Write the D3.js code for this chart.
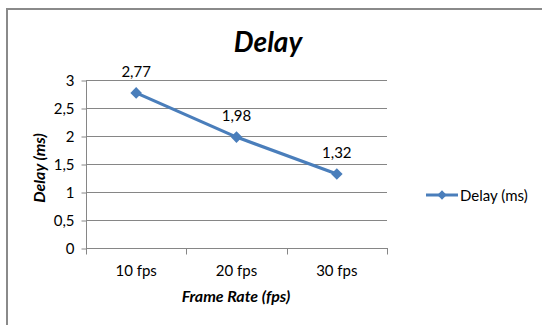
<!DOCTYPE html>
<html>
<head>
<meta charset="utf-8">
<script src="https://cdn.jsdelivr.net/npm/d3@7/dist/d3.min.js"></script>
<style>
  html, body { margin: 0; padding: 0; background: #fff; }
  svg { display: block; font-family: Lato, "Open Sans", sans-serif; }
</style>
</head>
<body>
<svg id="chart" width="542" height="325"></svg>
<script>
// Delay measured at each frame rate
const categories = ["10 fps", "20 fps", "30 fps"];
const delayValues = [2.77, 1.98, 1.32];
const yTicks = [0, 0.5, 1, 1.5, 2, 2.5, 3];
const seriesName = "Delay (ms)";
const chartTitle = "Delay";
const xTitle = "Frame Rate (fps)";
const yTitle = "Delay (ms)";

const svg = d3.select("#chart");
const blue = "#4A7EBB";
const grid = "#868686";
const fmt = v => String(v).replace(".", ",");
const fs = 15;

// Outer chart frame
svg.append("rect")
  .attr("x", 7).attr("y", 9).attr("width", 560).attr("height", 340)
  .attr("fill", "#fff").attr("stroke", "#8a8a8a").attr("stroke-width", 2);

const plot = { left: 86, right: 387, top: 80, bottom: 248 };

const x = d3.scaleBand().domain(categories).range([plot.left, plot.right]);
const y = d3.scaleLinear().domain([0, 3]).range([plot.bottom, plot.top]);

// Horizontal gridlines
svg.append("g").selectAll("line").data(yTicks.filter(t => t > 0)).join("line")
  .attr("x1", plot.left).attr("x2", plot.right)
  .attr("y1", d => y(d) + 0.5).attr("y2", d => y(d) + 0.5)
  .attr("stroke", grid).attr("stroke-width", 1);

// Y axis
const yAxis = svg.append("g")
  .attr("transform", `translate(${plot.left + 0.5},0.5)`)
  .call(d3.axisLeft(y).tickValues(yTicks).tickFormat(fmt).tickSize(5).tickPadding(7));
yAxis.select(".domain").attr("stroke", grid).attr("d", `M0,${plot.top}V${plot.bottom}`);
yAxis.selectAll(".tick line").attr("stroke", grid);
yAxis.selectAll(".tick text").attr("font-size", fs).attr("fill", "#000")
  .attr("font-family", "Lato, sans-serif");

// X axis with boundary ticks between categories
const xAxis = svg.append("g")
  .attr("transform", `translate(0,${plot.bottom + 0.5})`);
xAxis.append("line")
  .attr("x1", plot.left).attr("x2", plot.right + 1)
  .attr("stroke", grid);
const bounds = categories.map(c => x(c)).concat([x(categories[categories.length - 1]) + x.bandwidth()]);
xAxis.selectAll(".bt").data(bounds).join("line")
  .attr("class", "bt")
  .attr("x1", d => Math.round(d) + 0.5).attr("x2", d => Math.round(d) + 0.5)
  .attr("y1", 0).attr("y2", 6)
  .attr("stroke", grid);
xAxis.selectAll("text").data(categories).join("text")
  .attr("x", d => x(d) + x.bandwidth() / 2)
  .attr("y", 27)
  .attr("text-anchor", "middle")
  .attr("font-size", fs)
  .text(d => d);

// Series line
const cx = d => x(d) + x.bandwidth() / 2;
const pts = categories.map((c, i) => [cx(c), y(delayValues[i])]);
svg.append("path")
  .attr("d", d3.line()(pts))
  .attr("fill", "none").attr("stroke", blue).attr("stroke-width", 3.2)
  .attr("stroke-linejoin", "round");

// Diamond markers
const diamond = d3.symbol().type(d3.symbolDiamond2).size(85);
svg.append("g").selectAll("path").data(pts).join("path")
  .attr("transform", d => `translate(${d[0]},${d[1]})`)
  .attr("d", diamond)
  .attr("fill", blue);

// Data labels
svg.append("g").selectAll("text").data(pts).join("text")
  .attr("x", d => d[0])
  .attr("y", d => d[1] - 16)
  .attr("text-anchor", "middle")
  .attr("font-size", fs)
  .text((d, i) => fmt(delayValues[i]));

// Chart title
svg.append("text")
  .attr("x", 268).attr("y", 52)
  .attr("text-anchor", "middle")
  .attr("font-size", 28).attr("font-weight", "bold").attr("font-style", "italic")
  .text(chartTitle);

// Axis titles
svg.append("text")
  .attr("x", 236).attr("y", 302)
  .attr("text-anchor", "middle")
  .attr("font-size", 16).attr("font-weight", "bold").attr("font-style", "italic")
  .text(xTitle);
svg.append("text")
  .attr("transform", "translate(45,168) rotate(-90)")
  .attr("text-anchor", "middle")
  .attr("font-size", 16).attr("font-weight", "bold").attr("font-style", "italic")
  .text(yTitle);

// Legend
const lg = svg.append("g").attr("transform", "translate(426,195)");
lg.append("line").attr("x1", 0).attr("x2", 32).attr("y1", 0).attr("y2", 0)
  .attr("stroke", blue).attr("stroke-width", 3);
lg.append("path").attr("transform", "translate(16,0)")
  .attr("d", d3.symbol().type(d3.symbolDiamond2).size(55)).attr("fill", blue);
lg.append("text").attr("x", 34).attr("y", 5.5)
  .attr("font-size", fs).text(seriesName);
</script>
</body>
</html>
